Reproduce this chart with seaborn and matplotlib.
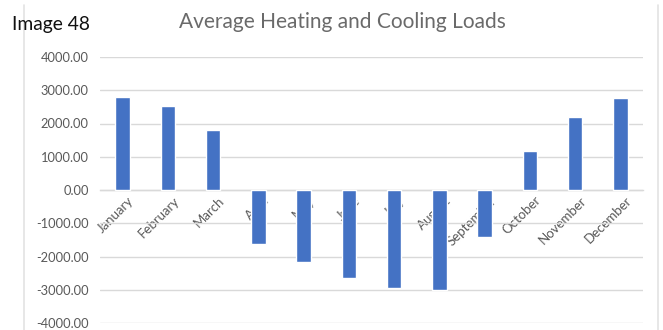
import matplotlib
matplotlib.use("Agg")
import matplotlib.pyplot as plt
from matplotlib.lines import Line2D
import matplotlib.transforms as mtransforms
import seaborn as sns
import pandas as pd

months = ["January", "February", "March", "April", "May", "June", "July",
          "August", "September", "October", "November", "December"]
loads = [2790, 2540, 1795, -1610, -2155, -2640, -2955, -2995, -1400, 1185, 2195, 2760]
y_ticks = [-4000, -3000, -2000, -1000, 0, 1000, 2000, 3000, 4000]

sns.set_theme(style="white")
plt.rcParams["font.family"] = ["Lato", "DejaVu Sans"]

BAR = "#4472C4"
GRID = "#d9d9d9"
TEXT = "#595959"

df = pd.DataFrame({"month": months, "load": loads})

fig = plt.figure(figsize=(6.63, 3.30), dpi=100)
ax = fig.add_axes([100 / 663, 1 - 323 / 330, 543 / 663, 266 / 330])

sns.barplot(data=df, x="month", y="load", color=BAR, width=0.32,
            saturation=1, ax=ax, zorder=3)

ax.set_ylim(-4000, 4000)
ax.set_yticks(y_ticks)
ax.set_yticklabels([f"{v:.2f}" for v in y_ticks], color=TEXT, fontsize=9.3)
ax.yaxis.grid(True, color=GRID, linewidth=1, zorder=0)
ax.set_xlabel("")
ax.set_ylabel("")

for side in ["left", "right", "top"]:
    ax.spines[side].set_visible(False)
ax.spines["bottom"].set_position(("data", 0))
ax.spines["bottom"].set_color(GRID)
ax.spines["bottom"].set_linewidth(1)
ax.tick_params(axis="both", length=0)
ax.tick_params(axis="y", pad=8)
ax.tick_params(axis="x", pad=3)
for lbl in ax.get_xticklabels():
    lbl.set_rotation(45)
    lbl.set_ha("right")
    lbl.set_va("top")
    lbl.set_rotation_mode("anchor")
    lbl.set_color(TEXT)
    lbl.set_fontsize(9.5)
    lbl.set_transform(lbl.get_transform() + mtransforms.ScaledTranslation(0.05, 0, fig.dpi_scale_trans))

# chart frame edges
fig.add_artist(Line2D([24 / 663, 24 / 663], [0, 1 - 5 / 330], color="#e3e3e3", lw=1.2))
fig.add_artist(Line2D([658 / 663, 658 / 663], [0, 1 - 5 / 330], color="#e3e3e3", lw=1.2))

fig.text(342 / 663, 1 - 28 / 330, "Average Heating and Cooling Loads",
         ha="center", va="baseline", fontsize=15, color="#6a6a6a")
fig.text(12 / 663, 1 - 30 / 330, "Image 48", ha="left", va="baseline",
         fontsize=13.9, color="#111111")

fig.savefig("out.png", dpi=100, facecolor="white")
